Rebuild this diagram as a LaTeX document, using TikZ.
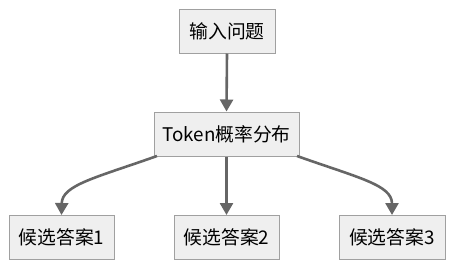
\documentclass[tikz,border=0pt]{standalone}
\usepackage{fontspec}
\setmainfont{Noto Sans CJK SC}
\usetikzlibrary{arrows.meta}
\definecolor{boxfill}{HTML}{EFEFEF}
\definecolor{boxline}{HTML}{A0A0A0}
\definecolor{arr}{HTML}{666666}
\begin{document}
\begin{tikzpicture}[x=1pt,y=-1pt,
  box/.style={draw=boxline,fill=boxfill,line width=1pt,minimum height=44pt,inner sep=0pt,font=\fontsize{18.8}{22}\selectfont},
  conn/.style={draw=arr,line width=2.6pt,-{Triangle[width=13pt,length=12pt]}}]
\useasboundingbox (0,0) rectangle (453,266);
\node[box,minimum width=96pt] (q) at (227,31) {输入问题};
\node[box,minimum width=145pt] (t) at (226.5,134) {Token概率分布};
\node[box,minimum width=105pt] (a1) at (61.5,237.5) {候选答案1};
\node[box,minimum width=105pt] (a2) at (226.5,237.5) {候选答案2};
\node[box,minimum width=106pt] (a3) at (392,237.5) {候选答案3};
\coordinate (ls) at (157,156);
\coordinate (rs) at (297,156);
\draw[conn] (q.south) -- (t.north);
\draw[conn] (t.south) -- (a2.north);
\draw[conn] (ls) .. controls (95,178) and (62,185) .. (a1.north);
\draw[conn] (rs) .. controls (359,178) and (392,185) .. (a3.north);
\end{tikzpicture}
\end{document}
